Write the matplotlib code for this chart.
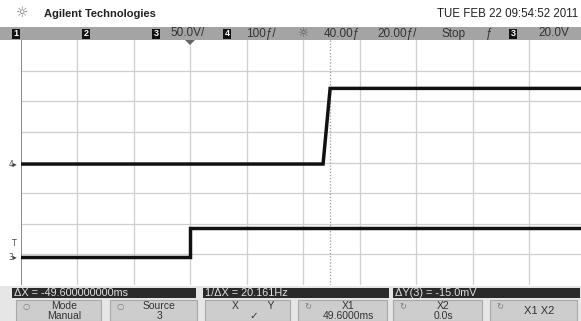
import matplotlib
matplotlib.use("Agg")
import matplotlib.pyplot as plt
from matplotlib.patches import Rectangle, Polygon

# ---- data (time in ms, level in screen divisions) ----
ch3_time = [-60.0, 0.0, 0.0, 138.4]
ch3_level = [-3.10, -3.10, -2.15, -2.15]
ch4_time = [-60.0, 47.1, 49.6, 138.4]
ch4_level = [-0.05, -0.05, 2.42, 2.42]
x_grid = [-40, -20, 0, 20, 40, 60, 80, 100, 120]
y_grid = [-3, -2, -1, 0, 1, 2, 3]
cursor_x1 = 49.6
header_items = [("50.0V/", 170), ("100\u0192/", 246), ("40.00\u0192", 324), ("20.00\u0192/", 377),
                ("Stop", 442), ("\u0192", 486), ("20.0V", 538)]
status_texts = ["\u0394X = -49.600000000ms", "1/\u0394X = 20.161Hz", "\u0394Y(3) = -15.0mV"]
button_texts = [("Mode", "Manual"), ("Source", "3"), ("X          Y", "\u2713"),
                ("X1", "49.6000ms"), ("X2", "0.0s"), ("X1 X2", "")]

W, H = 581, 321
fig = plt.figure(figsize=(W / 100, H / 100), dpi=100)
fig.patch.set_facecolor("white")

def fx(x):
    return x / W

def fy(y):
    return 1 - y / H

# ---- graticule axes ----
ax = fig.add_axes([fx(20.5), fy(285), fx(581) - fx(20.5), fy(40) - fy(285)])
ax.set_xlim(-60, 138.4)
ax.set_ylim(-4, 4)
ax.set_facecolor("white")
for s in ax.spines.values():
    s.set_visible(False)
ax.set_xticks([])
ax.set_yticks([])
for xv in x_grid:
    ax.axvline(xv, color="#cfcfcf", lw=0.9, zorder=1)
for yv in y_grid:
    ax.axhline(yv, color="#cfcfcf", lw=0.9, zorder=1)
ax.axvline(-60, color="#8a8a8a", lw=1.4, zorder=2)
ax.axvline(cursor_x1, color="#9a9a9a", lw=0.9, ls=(0, (1, 1.5)), zorder=2)

ax.plot(ch4_time, ch4_level, color="#111111", lw=2.5, zorder=3, solid_joinstyle="miter")
ax.plot(ch3_time, ch3_level, color="#111111", lw=2.5, zorder=3, solid_joinstyle="miter")

# ---- header ----
fig.text(fx(22), fy(13), "\u263c", fontsize=10, color="#777777", ha="center", va="center")
fig.text(fx(44), fy(14), "Agilent Technologies", fontsize=8.0, fontweight="bold",
         family="Liberation Sans", color="#222222", ha="left", va="center")
fig.text(fx(578), fy(14), "TUE FEB 22 09:54:52 2011", fontsize=8.3,
         family="Liberation Sans", color="#222222", ha="right", va="center")

fig.patches.append(Rectangle((0, fy(40)), 1, fy(27) - fy(40), transform=fig.transFigure,
                             facecolor="#a4a4a4", edgecolor="none"))
for lab, xb in [("1", 12), ("2", 82), ("3", 152), ("4", 223), ("3", 509)]:
    fig.patches.append(Rectangle((fx(xb), fy(38.5)), fx(8) - fx(0), fy(28.5) - fy(38.5),
                                 transform=fig.transFigure, facecolor="#111111", edgecolor="none"))
    fig.text(fx(xb + 4), fy(33.5), lab, fontsize=6.5, color="white", fontweight="bold",
             ha="center", va="center", family="Liberation Sans")
for t, xt in header_items:
    fig.text(fx(xt), fy(33.5), t, fontsize=8.5, color="#333333", ha="left", va="center",
             family="Liberation Sans")
fig.text(fx(304), fy(33.5), "\u263c", fontsize=9, color="#555555", ha="center", va="center")
fig.patches.append(Polygon([[fx(185), fy(40)], [fx(195), fy(40)], [fx(190), fy(45)]],
                           closed=True, transform=fig.transFigure, facecolor="#666666",
                           edgecolor="none"))

# ---- left markers ----
fig.text(fx(13), fy(165), "4\u25b8", fontsize=5.5, color="#444444", ha="center", va="center")
fig.text(fx(14), fy(243), "T", fontsize=5.5, color="#444444", ha="center", va="center")
fig.text(fx(13), fy(258), "3\u25b8", fontsize=5.5, color="#444444", ha="center", va="center")

# ---- status row ----
fig.patches.append(Rectangle((0, 0), 1, fy(286), transform=fig.transFigure,
                             facecolor="#e6e6e6", edgecolor="none"))
for (x0, x1), t in zip([(12, 196), (203, 389), (393, 580)], status_texts):
    fig.patches.append(Rectangle((fx(x0), fy(298)), fx(x1) - fx(x0), fy(288) - fy(298),
                                 transform=fig.transFigure, facecolor="#2a2a2a",
                                 edgecolor="none"))
    fig.text(fx(x0 + 2), fy(293), t, fontsize=7.8, color="#e0e0e0", ha="left", va="center",
             family="Liberation Sans")

# ---- buttons ----
btn_x = [(16, 101), (110, 197), (205, 290), (298, 387), (393, 482), (490, 577)]
for (x0, x1), (t1, t2) in zip(btn_x, button_texts):
    fig.patches.append(Rectangle((fx(x0), 0), fx(x1) - fx(x0), fy(300),
                                 transform=fig.transFigure, facecolor="#cdcdcd",
                                 edgecolor="#a8a8a8", lw=0.8))
    cx = (x0 + x1) / 2 + 6
    if t2:
        fig.text(fx(cx), fy(306), t1, fontsize=7.5, color="#333333", ha="center", va="center",
                 family="Liberation Sans")
        fig.text(fx(cx), fy(316), t2, fontsize=7.5, color="#333333", ha="center", va="center",
                 family=["Liberation Sans", "DejaVu Sans"])
    else:
        fig.text(fx(cx), fy(311), t1, fontsize=8, color="#333333", ha="center", va="center",
                 family="Liberation Sans")
    if t1 not in ("X          Y",):
        fig.text(fx(x0 + 10), fy(307), "\u21bb" if x0 > 290 else "\u25cb", fontsize=6,
                 color="#777777", ha="center", va="center", family="DejaVu Sans")

fig.savefig("out.png", dpi=100)
